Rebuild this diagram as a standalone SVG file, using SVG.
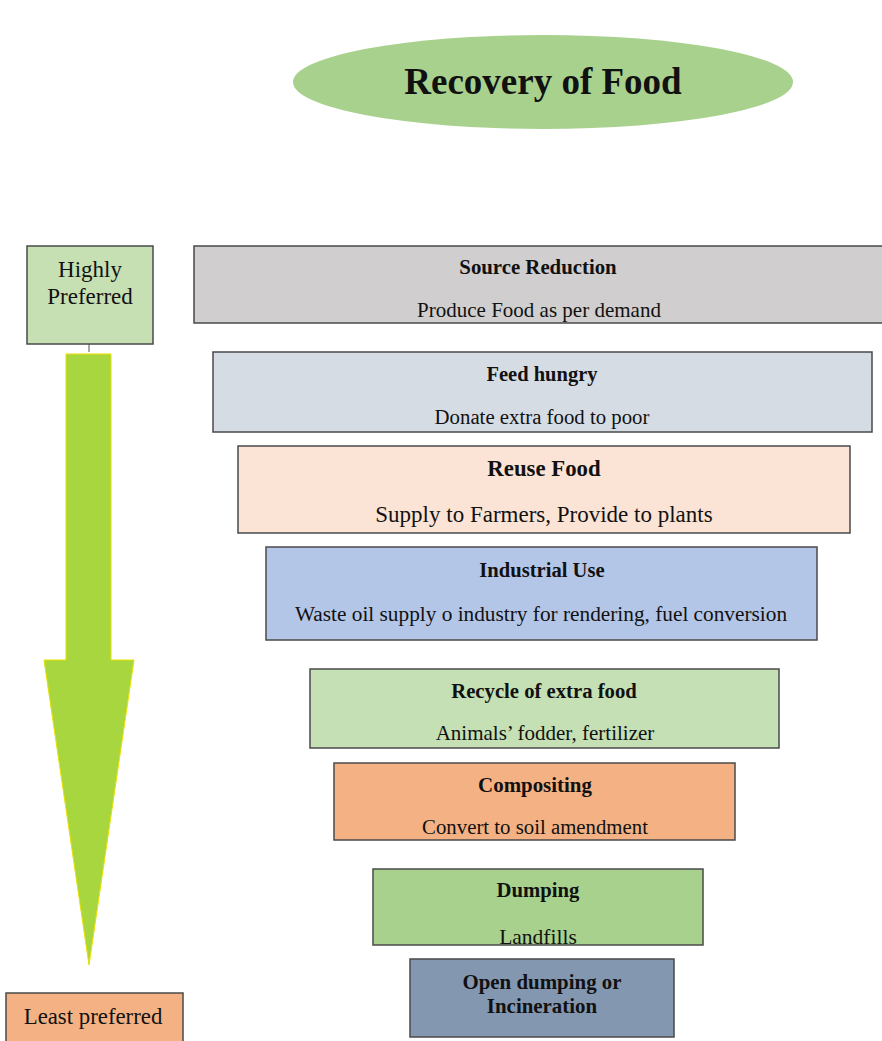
<svg xmlns="http://www.w3.org/2000/svg" width="882" height="1041" viewBox="0 0 882 1041">
<style>
.box{stroke:#4a4a4a;stroke-width:1.5}
.t{font-family:"Liberation Serif","Times New Roman",serif;fill:#111;text-anchor:middle}
.b{font-weight:bold}
</style>
<defs>
<clipPath id="c1"><rect x="194" y="246" width="688" height="76"/></clipPath>
<clipPath id="c2"><rect x="373" y="869" width="330" height="75"/></clipPath>
</defs>
<rect width="882" height="1041" fill="#fff"/>
<g id="title">
<ellipse cx="543" cy="82" rx="250" ry="47" fill="#a9d18e"/>
<text class="t b" x="543" y="94" font-size="37">Recovery of Food</text>
</g>
<g id="connectors">
<line x1="89" y1="344" x2="89" y2="352" stroke="#555" stroke-width="1"/>
<path d="M66 354 H111 V660 H134 L89 965 L44 660 H66 Z" fill="#a8d63e" stroke="#e8e000" stroke-width="1"/>
</g>
<g id="highly">
<rect class="box" x="27" y="246" width="126" height="98" fill="#c6e0b4"/>
<text class="t" x="90" y="277" font-size="23">Highly</text>
<text class="t" x="90" y="304" font-size="23">Preferred</text>
</g>
<g id="source">
<rect class="box" x="194" y="246" width="692" height="77" fill="#d0cece"/>
<text class="t b" x="538" y="274" font-size="20.8">Source Reduction</text>
<text class="t" x="539" y="317" font-size="21" clip-path="url(#c1)">Produce Food as per demand</text>
</g>
<g id="feed">
<rect class="box" x="213" y="352" width="659" height="80" fill="#d6dce4"/>
<text class="t b" x="542" y="381" font-size="20.5">Feed hungry</text>
<text class="t" x="542" y="424" font-size="20.8">Donate extra food to poor</text>
</g>
<g id="reuse">
<rect class="box" x="238" y="446" width="612" height="87" fill="#fbe4d5"/>
<text class="t b" x="544" y="476" font-size="22.8">Reuse Food</text>
<text class="t" x="544" y="522" font-size="23">Supply to Farmers, Provide to plants</text>
</g>
<g id="industrial">
<rect class="box" x="266" y="547" width="551" height="93" fill="#b4c6e7"/>
<text class="t b" x="542" y="577" font-size="20.6">Industrial Use</text>
<text class="t" x="541" y="621" font-size="21.3">Waste oil supply o industry for rendering, fuel conversion</text>
</g>
<g id="recycle">
<rect class="box" x="310" y="669" width="469" height="79" fill="#c5e0b4"/>
<text class="t b" x="544" y="698" font-size="20.7">Recycle of extra food</text>
<text class="t" x="545" y="740" font-size="21">Animals’ fodder, fertilizer</text>
</g>
<g id="compositing">
<rect class="box" x="334" y="763" width="401" height="77" fill="#f4b183"/>
<text class="t b" x="535" y="792" font-size="20.9">Compositing</text>
<text class="t" x="535" y="834" font-size="20.8">Convert to soil amendment</text>
</g>
<g id="dumping">
<rect class="box" x="373" y="869" width="330" height="76" fill="#a9d18e"/>
<text class="t b" x="538" y="897" font-size="20.7">Dumping</text>
<text class="t" x="538" y="944" font-size="21.5" clip-path="url(#c2)">Landfills</text>
</g>
<g id="open">
<rect class="box" x="410" y="959" width="264" height="78" fill="#8497b0"/>
<text class="t b" x="542" y="989" font-size="20.9">Open dumping or</text>
<text class="t b" x="542" y="1013" font-size="20.9">Incineration</text>
</g>
<g id="least">
<rect class="box" x="6" y="993" width="177" height="52" fill="#f4b183"/>
<text class="t" x="93" y="1024" font-size="22.8">Least preferred</text>
</g>
</svg>
